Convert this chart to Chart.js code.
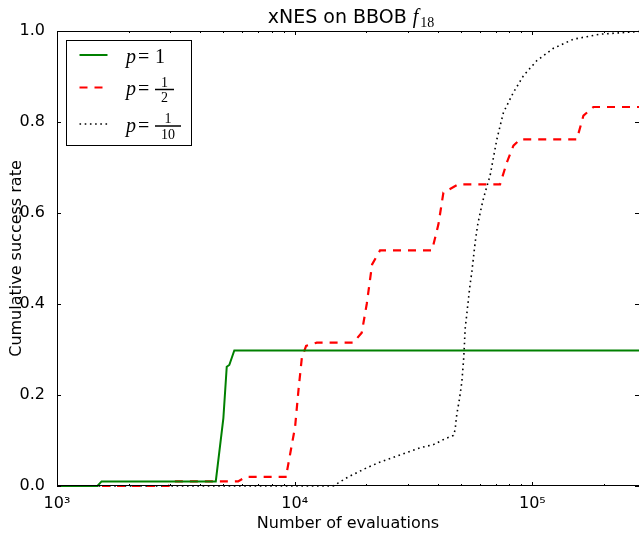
<!DOCTYPE html>
<html>
<head>
<meta charset="utf-8">
<script src="https://cdn.jsdelivr.net/npm/chart.js@4/dist/chart.umd.min.js"></script>
<style>
html, body { margin: 0; padding: 0; background: #fff; }
</style>
</head>
<body>
<canvas id="ecdfChart" width="639" height="538"></canvas>
<script>
// evaluations (x) and cumulative success rate (y)
const greenX = [1000, 1480, 1540, 4656, 5012, 5178, 5309, 5572, 281000];
const greenY = [0, 0, 0.01, 0.01, 0.149, 0.262, 0.266, 0.298, 0.298];

const redX = [1000, 2950, 3060, 5780, 6240, 9270, 9310, 10040, 10380, 10720, 11170, 12390,
  17660, 19150, 20100, 21170, 22870, 37840, 40250, 42250, 48870, 73140, 78100, 83240,
  88850, 153900, 164000, 180700, 281000];
const redY = [0, 0, 0.01, 0.01, 0.02, 0.02, 0.036, 0.13, 0.212, 0.282, 0.308, 0.315,
  0.315, 0.337, 0.40, 0.487, 0.518, 0.518, 0.575, 0.645, 0.663, 0.663, 0.711, 0.748,
  0.762, 0.762, 0.814, 0.833, 0.833];

const dotX = [1000, 14520, 15280, 16570, 17110, 20100, 22490, 33720, 38370, 42990, 46590,
  47320, 48080, 49310, 50460, 51270, 51760, 52110, 52970, 53820, 54700, 55610, 56520,
  57450, 58770, 60300, 61940, 63260, 66400, 70900, 75580, 83240, 91800, 104500, 122700,
  148900, 192800, 266000, 281000];
const dotY = [0, 0, 0.007, 0.018, 0.022, 0.04, 0.051, 0.084, 0.091, 0.104, 0.111,
  0.124, 0.157, 0.19, 0.227, 0.271, 0.308, 0.344, 0.377, 0.41, 0.443, 0.469, 0.502,
  0.535, 0.572, 0.60, 0.627, 0.645, 0.682, 0.762, 0.821, 0.865, 0.902, 0.935, 0.962,
  0.982, 0.993, 0.998, 0.999];

const legendNum = ['1', '1', '1'];
const legendDen = ['', '2', '10'];

const xMin = 1000, xMax = 281000;
const xMajor = [1000, 10000, 100000];
const xMajorLabels = ['10\u00B3', '10\u2074', '10\u2075'];
const yTicks = [0, 0.2, 0.4, 0.6, 0.8, 1.0];

// minor ticks 2..9 x 10^k inside the range
const xMinor = [];
[1000, 10000, 100000].forEach(d => {
    for (let m = 2; m <= 9; m++) if (d * m <= xMax) xMinor.push(d * m);
});

const pts = (xs, ys) => xs.map((x, i) => ({ x: x, y: ys[i] }));

Chart.defaults.font.family = '"DejaVu Sans", sans-serif';
Chart.defaults.color = '#000';

// box round the plot and inward ticks on all sides, like matplotlib
const axesBox = {
    id: 'axesBox',
    afterDatasetsDraw(chart) {
        const { ctx, chartArea: a, scales: { x, y } } = chart;
        ctx.save();
        ctx.strokeStyle = '#000';
        ctx.lineWidth = 1;
        ctx.strokeRect(a.left + 0.5, a.top + 0.5, a.right - a.left, a.bottom - a.top - 1);
        ctx.beginPath();
        x.ticks.forEach(t => {
            const px = Math.round(x.getPixelForValue(t.value)) + 0.5;
            const len = t.major ? 4 : 2;
            ctx.moveTo(px, a.bottom); ctx.lineTo(px, a.bottom - len);
            ctx.moveTo(px, a.top); ctx.lineTo(px, a.top + len);
        });
        y.ticks.forEach(t => {
            const py = Math.round(y.getPixelForValue(t.value)) + 0.5;
            ctx.moveTo(a.left, py); ctx.lineTo(a.left + 4, py);
            ctx.moveTo(a.right, py); ctx.lineTo(a.right - 4, py);
        });
        ctx.stroke();
        ctx.restore();
    }
};

// title with the math part f_18
const mathTitle = {
    id: 'mathTitle',
    afterDraw(chart) {
        const { ctx, chartArea: a } = chart;
        const part1 = 'xNES on BBOB ';
        ctx.save();
        ctx.fillStyle = '#000';
        ctx.textAlign = 'left';
        ctx.textBaseline = 'alphabetic';
        ctx.font = '19px "DejaVu Sans"';
        const w1 = ctx.measureText(part1).width;
        ctx.font = 'italic 20px "Liberation Serif"';
        const wf = ctx.measureText('f').width;
        ctx.font = '14px "Liberation Serif"';
        const ws = ctx.measureText('18').width;
        let x = (a.left + a.right) / 2 + 3 - (w1 + wf + 2 + ws) / 2;
        const base = 23;
        ctx.font = '19px "DejaVu Sans"';
        ctx.fillText(part1, x, base);
        x += w1;
        ctx.font = 'italic 20px "Liberation Serif"';
        ctx.fillText('f', x, base);
        x += wf + 2;
        ctx.font = '14px "Liberation Serif"';
        ctx.fillText('18', x, base + 4);
        ctx.restore();
    }
};

// legend with p = 1, 1/2, 1/10
const fracLegend = {
    id: 'fracLegend',
    afterDraw(chart) {
        const { ctx, chartArea: a } = chart;
        const bx = a.left + 9.5, by = a.top + 9.5, bw = 125, bh = 105;
        const rows = [14.5, 47, 83.5];
        ctx.save();
        ctx.fillStyle = '#fff';
        ctx.fillRect(bx, by, bw, bh);
        ctx.strokeStyle = '#000';
        ctx.lineWidth = 1;
        ctx.strokeRect(bx, by, bw, bh);
        chart.data.datasets.forEach((ds, i) => {
            const ly = by + rows[i];
            ctx.strokeStyle = ds.borderColor;
            ctx.lineWidth = ds.borderWidth;
            ctx.setLineDash(ds.borderDash || []);
            ctx.beginPath();
            ctx.moveTo(bx + 13, ly);
            ctx.lineTo(bx + 41, ly);
            ctx.stroke();
            ctx.setLineDash([]);

            const base = ly + 7.5;
            const tx = bx + 59.5;
            ctx.fillStyle = '#000';
            ctx.textAlign = 'left';
            ctx.textBaseline = 'alphabetic';
            ctx.font = 'italic 20px "Liberation Serif"';
            ctx.fillText('p', tx, base);
            ctx.font = '20px "Liberation Serif"';
            ctx.fillText('=', tx + 12, base);
            if (!legendDen[i]) {
                ctx.fillText(legendNum[i], tx + 29, base);
            } else {
                ctx.font = '14px "Liberation Serif"';
                const nw = ctx.measureText(legendNum[i]).width;
                const dw = ctx.measureText(legendDen[i]).width;
                const barW = Math.max(nw, dw) + 12;
                const bar = ly + 2;
                const fx = tx + 29;
                ctx.strokeStyle = '#000';
                ctx.lineWidth = 1.5;
                ctx.beginPath();
                ctx.moveTo(fx, bar);
                ctx.lineTo(fx + barW, bar);
                ctx.stroke();
                ctx.textAlign = 'center';
                ctx.fillText(legendNum[i], fx + barW / 2, bar - 3);
                ctx.fillText(legendDen[i], fx + barW / 2, bar + 12.5);
            }
        });
        ctx.restore();
    }
};

const ctx = document.getElementById('ecdfChart').getContext('2d');

const data = {
    datasets: [
        {
            label: 'p=1',
            data: pts(greenX, greenY),
            borderColor: '#008000',
            borderWidth: 2,
            borderDash: []
        },
        {
            label: 'p=1/2',
            data: pts(redX, redY),
            borderColor: '#ff0000',
            borderWidth: 2.2,
            borderDash: [8, 7]
        },
        {
            label: 'p=1/10',
            data: pts(dotX, dotY),
            borderColor: '#000000',
            borderWidth: 1.6,
            borderDash: [1.6, 3.6]
        }
    ]
};

const config = {
    type: 'line',
    data: data,
    options: {
        responsive: false,
        animation: false,
        clip: false,
        layout: { padding: { top: 31, right: 0, bottom: 0, left: 0 } },
        elements: {
            point: { radius: 0 },
            line: { tension: 0, fill: false }
        },
        plugins: {
            legend: { display: false },
            tooltip: { enabled: false },
            title: { display: false }
        },
        scales: {
            x: {
                type: 'logarithmic',
                min: xMin,
                max: xMax,
                grid: { display: false },
                border: { display: false },
                ticks: {
                    autoSkip: false,
                    maxRotation: 0,
                    padding: 0,
                    font: { size: 16 },
                    callback: (v) => {
                        const k = xMajor.indexOf(v);
                        return k >= 0 ? xMajorLabels[k] : '';
                    }
                },
                afterBuildTicks: (s) => {
                    s.ticks = xMajor.concat(xMinor).sort((p, q) => p - q)
                        .map(v => ({ value: v, major: xMajor.includes(v) }));
                },
                afterFit: (s) => {
                    s.height = 52;
                    s.paddingLeft = 0;
                    s.paddingRight = 0;
                },
                title: {
                    display: true,
                    text: 'Number of evaluations',
                    font: { size: 16 },
                    padding: { top: 0, bottom: 5 }
                }
            },
            y: {
                min: 0,
                max: 1,
                grid: { display: false },
                border: { display: false },
                ticks: {
                    padding: 4,
                    font: { size: 16 },
                    callback: (v) => v.toFixed(1)
                },
                afterBuildTicks: (s) => {
                    s.ticks = yTicks.map(v => ({ value: v }));
                },
                afterFit: (s) => {
                    s.width = 57;
                },
                title: {
                    display: true,
                    text: 'Cumulative success rate',
                    font: { size: 16 },
                    padding: { top: 7, bottom: 0 }
                }
            }
        }
    },
    plugins: [axesBox, mathTitle, fracLegend]
};

const ecdfChart = new Chart(ctx, config);
</script>
</body>
</html>
